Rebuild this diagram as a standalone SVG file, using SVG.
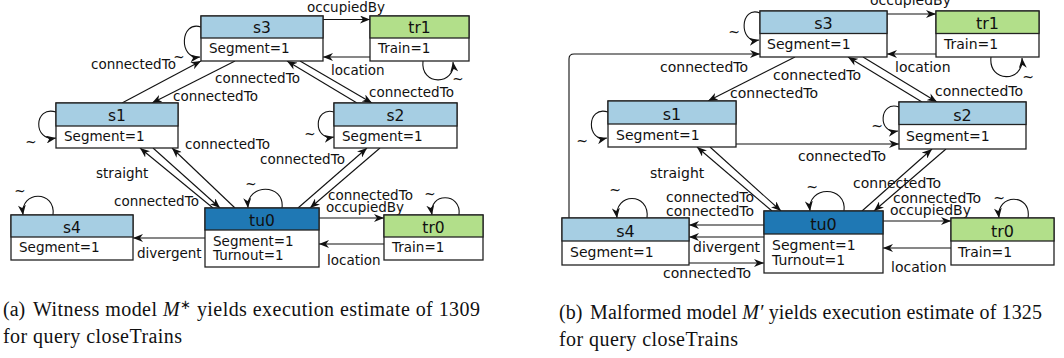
<svg xmlns="http://www.w3.org/2000/svg" width="1064" height="358" viewBox="0 0 1064 358">
  <defs>
    <marker id="ah" viewBox="0 0 10 8" refX="10" refY="4" markerWidth="10" markerHeight="8" markerUnits="userSpaceOnUse" orient="auto">
      <path d="M0,0 L10,4 L0,8 L3,4 Z" fill="#111"/>
    </marker>
    <style>
      .box{fill:#fff;stroke:#222;stroke-width:1.3}
      .seg{fill:#a6cee3;stroke:#222;stroke-width:1.3}
      .turn{fill:#1f78b4;stroke:#222;stroke-width:1.3}
      .train{fill:#b2df8a;stroke:#222;stroke-width:1.3}
      .nm{font-family:"DejaVu Sans",sans-serif;font-size:15.5px;text-anchor:middle;fill:#111}
      .at{font-family:"DejaVu Sans",sans-serif;font-size:13.5px;fill:#111}
      .nmb{font-family:"DejaVu Sans",sans-serif;font-size:16px;text-anchor:middle;fill:#111}
      .atb{font-family:"DejaVu Sans",sans-serif;font-size:14px;fill:#111}
      .lb{font-family:"DejaVu Sans",sans-serif;font-size:13.5px;fill:#111}
      .lbb{font-family:"DejaVu Sans",sans-serif;font-size:14px;fill:#111}
      .tl{text-anchor:middle}
      .e{fill:none;stroke:#111;stroke-width:1.1;marker-end:url(#ah)}
      .cap{font-family:"Liberation Serif",serif;font-size:20px;fill:#111}
    </style>
  </defs>

  <!-- ===== (a) witness model ===== -->
  <g id="a-connectors">
    <path class="e" d="M201,27 C180,20 178,60 200,57"/>
    <path class="e" d="M122,103 L201,61"/>
    <path class="e" d="M235,61 L152,103"/>
    <path class="e" d="M357,103 L287,61"/>
    <path class="e" d="M300,61 L372,103"/>
    <path class="e" d="M323,19.5 L370,19.5"/>
    <path class="e" d="M370,57 L323,57"/>
    <path class="e" d="M423,61 C420,86 456,86 453,62"/>
    <path class="e" d="M56,112 C34,105 32,142 56,138"/>
    <path class="e" d="M334,112 C314,106 312,141 334,137"/>
    <path class="e" d="M213,208 L140,148"/>
    <path class="e" d="M153,148 L220,208"/>
    <path class="e" d="M235,208 L172,148"/>
    <path class="e" d="M298,208 L367,148"/>
    <path class="e" d="M380,148 L310,208"/>
    <path class="e" d="M319,218 L384,218"/>
    <path class="e" d="M384,244 L319,244"/>
    <path class="e" d="M459,215 C462,192 428,192 432,215"/>
    <path class="e" d="M282,208 C285,183 246,183 248,208"/>
    <path class="e" d="M53,215 C56,190 20,190 23,215"/>
    <path class="e" d="M205,238 L133,238"/>

    <text class="lb" x="91" y="69">connectedTo</text>
    <text class="lb" x="215" y="82.5">connectedTo</text>
    <text class="lb" x="173" y="100.5">connectedTo</text>
    <text class="lb" x="369" y="97">connectedTo</text>
    <text class="lb" x="307" y="11.5">occupiedBy</text>
    <text class="lb" x="331" y="75">location</text>
    <text class="lb" x="96" y="178">straight</text>
    <text class="lb" x="114" y="205.5">connectedTo</text>
    <text class="lb" x="185" y="149">connectedTo</text>
    <text class="lb" x="260" y="164">connectedTo</text>
    <text class="lb" x="328" y="200">connectedTo</text>
    <text class="lb" x="326" y="211.5">occupiedBy</text>
    <text class="lb" x="327" y="265">location</text>
    <text class="lb" x="137" y="258">divergent</text>
    <text class="lb tl" x="179" y="62">~</text>
    <text class="lb tl" x="458" y="83.5">~</text>
    <text class="lb tl" x="31" y="147">~</text>
    <text class="lb tl" x="310" y="139">~</text>
    <text class="lb tl" x="430" y="199">~</text>
    <text class="lb tl" x="251" y="189">~</text>
    <text class="lb tl" x="20" y="196">~</text>
  </g>

  <g id="a-s3">
    <rect class="box" x="201" y="16" width="122" height="45"/>
    <rect class="seg" x="201" y="16" width="122" height="22"/>
    <text class="nm" x="262" y="33.3">s3</text>
    <text class="at" x="209" y="53">Segment=1</text>
  </g>
  <g id="a-tr1">
    <rect class="box" x="370" y="16" width="99" height="45"/>
    <rect class="train" x="370" y="16" width="99" height="22"/>
    <text class="nm" x="419.5" y="33.3">tr1</text>
    <text class="at" x="378" y="53">Train=1</text>
  </g>
  <g id="a-s1">
    <rect class="box" x="56" y="103" width="122" height="45"/>
    <rect class="seg" x="56" y="103" width="122" height="23"/>
    <text class="nm" x="117" y="120.5">s1</text>
    <text class="at" x="64" y="140.5">Segment=1</text>
  </g>
  <g id="a-s2">
    <rect class="box" x="334" y="103" width="123" height="45"/>
    <rect class="seg" x="334" y="103" width="123" height="23"/>
    <text class="nm" x="395.5" y="120.5">s2</text>
    <text class="at" x="342" y="140.5">Segment=1</text>
  </g>
  <g id="a-s4">
    <rect class="box" x="11" y="215" width="122" height="45"/>
    <rect class="seg" x="11" y="215" width="122" height="22"/>
    <text class="nm" x="72" y="232.5">s4</text>
    <text class="at" x="19" y="252">Segment=1</text>
  </g>
  <g id="a-tu0">
    <rect class="box" x="205" y="208" width="114" height="59"/>
    <rect class="turn" x="205" y="208" width="114" height="22"/>
    <text class="nm" x="262" y="225.5">tu0</text>
    <text class="at" x="213" y="245.5">Segment=1</text>
    <text class="at" x="213" y="259.5">Turnout=1</text>
  </g>
  <g id="a-tr0">
    <rect class="box" x="384" y="215" width="99" height="45"/>
    <rect class="train" x="384" y="215" width="99" height="22"/>
    <text class="nm" x="433.5" y="232.5">tr0</text>
    <text class="at" x="392" y="252">Train=1</text>
  </g>

  <!-- ===== (b) malformed model ===== -->
  <g id="b-connectors">
    <path class="e" d="M760,13 C740,5 738,44 759,40"/>
    <path class="e" d="M569,218 L569,59 Q569,54 574,54 L760,54"/>
    <path class="e" d="M795,57 L708,101"/>
    <path class="e" d="M922,102 L848,57"/>
    <path class="e" d="M863,57 L937,102"/>
    <path class="e" d="M887,14 L936,14"/>
    <path class="e" d="M936,54 L887,54"/>
    <path class="e" d="M991,57 C988,83 1024,83 1022,58"/>
    <path class="e" d="M899,107 C879,100 877,135 898,131"/>
    <path class="e" d="M608,112 C586,105 586,143 607,138"/>
    <path class="e" d="M736,144 L899,144"/>
    <path class="e" d="M772,211 L697,147"/>
    <path class="e" d="M710,147 L781,211"/>
    <path class="e" d="M764,225 L689,225"/>
    <path class="e" d="M764,237 L689,237"/>
    <path class="e" d="M689,263 L764,263"/>
    <path class="e" d="M862,211 L932,149"/>
    <path class="e" d="M946,149 L874,211"/>
    <path class="e" d="M883,221 L951,221"/>
    <path class="e" d="M951,248 L883,248"/>
    <path class="e" d="M1028,218 C1032,193 996,193 999,218"/>
    <path class="e" d="M844,211 C847,185 807,185 810,211"/>
    <path class="e" d="M647,218 C650,192 614,192 617,218"/>

    <text class="lbb" x="660" y="72">connectedTo</text>
    <text class="lbb" x="773" y="80">connectedTo</text>
    <text class="lbb" x="730" y="98">connectedTo</text>
    <text class="lbb" x="935" y="96">connectedTo</text>
    <text class="lbb" x="870" y="5">occupiedBy</text>
    <text class="lbb" x="895" y="72">location</text>
    <text class="lbb" x="798" y="160.5">connectedTo</text>
    <text class="lbb" x="650" y="178">straight</text>
    <text class="lbb" x="666" y="201.5">connectedTo</text>
    <text class="lbb" x="666" y="216">connectedTo</text>
    <text class="lbb" x="693" y="252">divergent</text>
    <text class="lbb" x="663" y="278">connectedTo</text>
    <text class="lbb" x="853" y="188">connectedTo</text>
    <text class="lbb" x="893" y="202.5">connectedTo</text>
    <text class="lbb" x="890" y="215">occupiedBy</text>
    <text class="lbb" x="891" y="271.5">location</text>
    <text class="lbb tl" x="734" y="36.5">~</text>
    <text class="lbb tl" x="1028" y="82">~</text>
    <text class="lbb tl" x="877" y="131">~</text>
    <text class="lbb tl" x="582" y="146">~</text>
    <text class="lbb tl" x="999" y="203">~</text>
    <text class="lbb tl" x="812" y="191.5">~</text>
    <text class="lbb tl" x="615" y="194.5">~</text>
  </g>

  <g id="b-s3">
    <rect class="box" x="760" y="11" width="127" height="46"/>
    <rect class="seg" x="760" y="11" width="127" height="22.5"/>
    <text class="nmb" x="823.5" y="29.3">s3</text>
    <text class="atb" x="767" y="49">Segment=1</text>
  </g>
  <g id="b-tr1">
    <rect class="box" x="936" y="11" width="103" height="46"/>
    <rect class="train" x="936" y="11" width="103" height="22.5"/>
    <text class="nmb" x="987.5" y="29.3">tr1</text>
    <text class="atb" x="944" y="49">Train=1</text>
  </g>
  <g id="b-s1">
    <rect class="box" x="608" y="101" width="128" height="46"/>
    <rect class="seg" x="608" y="101" width="128" height="23"/>
    <text class="nmb" x="672" y="120">s1</text>
    <text class="atb" x="616" y="139.5">Segment=1</text>
  </g>
  <g id="b-s2">
    <rect class="box" x="899" y="102" width="127" height="47"/>
    <rect class="seg" x="899" y="102" width="127" height="22.5"/>
    <text class="nmb" x="962.5" y="120.5">s2</text>
    <text class="atb" x="906" y="140.5">Segment=1</text>
  </g>
  <g id="b-s4">
    <rect class="box" x="562" y="218" width="127" height="47"/>
    <rect class="seg" x="562" y="218" width="127" height="23"/>
    <text class="nmb" x="625.5" y="236.5">s4</text>
    <text class="atb" x="570" y="256.5">Segment=1</text>
  </g>
  <g id="b-tu0">
    <rect class="box" x="764" y="211" width="119" height="62"/>
    <rect class="turn" x="764" y="211" width="119" height="23"/>
    <text class="nmb" x="823.5" y="229.5">tu0</text>
    <text class="atb" x="772" y="250">Segment=1</text>
    <text class="atb" x="772" y="265">Turnout=1</text>
  </g>
  <g id="b-tr0">
    <rect class="box" x="951" y="218" width="103" height="47"/>
    <rect class="train" x="951" y="218" width="103" height="23"/>
    <text class="nmb" x="1002.5" y="236.5">tr0</text>
    <text class="atb" x="958" y="256.5">Train=1</text>
  </g>

  <!-- captions -->
  <g id="captions">
    <text class="cap" x="3" y="316">(a)</text>
    <text class="cap" x="33" y="316" textLength="447" lengthAdjust="spacing">Witness model <tspan font-style="italic">M</tspan><tspan dy="-7" font-size="13">∗</tspan><tspan dy="7"> yields execution estimate of 1309</tspan></text>
    <text class="cap" x="3" y="343" textLength="179" lengthAdjust="spacing">for query closeTrains</text>
    <text class="cap" x="559" y="319">(b)</text>
    <text class="cap" x="590" y="319" textLength="452" lengthAdjust="spacing">Malformed model <tspan font-style="italic">M′</tspan> yields execution estimate of 1325</text>
    <text class="cap" x="559" y="346" textLength="179" lengthAdjust="spacing">for query closeTrains</text>
  </g>
</svg>
